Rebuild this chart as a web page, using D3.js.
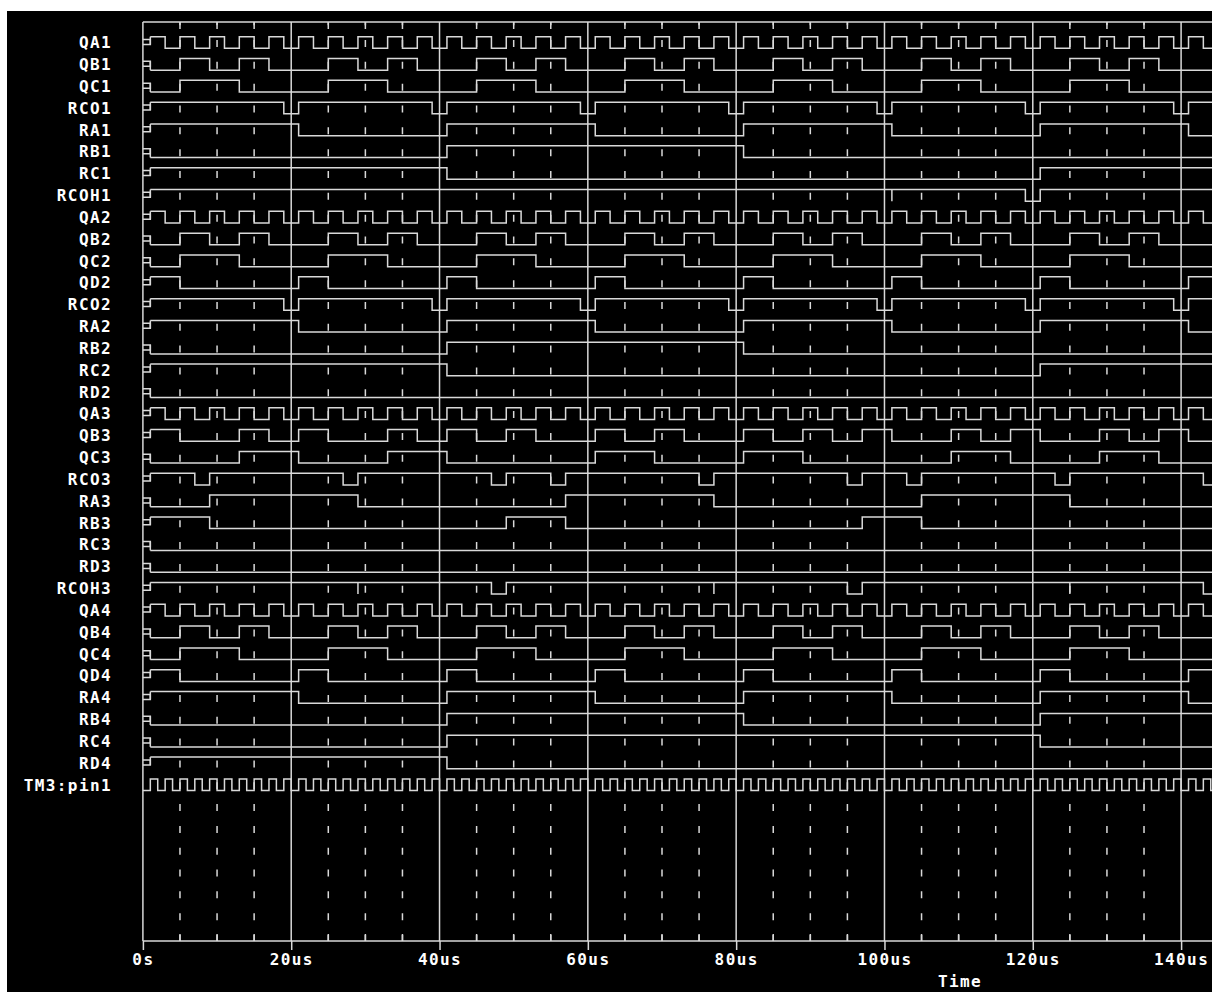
<!DOCTYPE html>
<html><head><meta charset="utf-8">
<script src="https://cdn.jsdelivr.net/npm/d3@7"></script>
<style>html,body{margin:0;padding:0;background:#fff;overflow:hidden}svg{display:block}</style>
</head><body>
<svg id="c" width="1212" height="992"></svg>
<script>
// ---------- DATA (times in microseconds; edges = toggle times) ----------
const qaEdges = [3,5,7,9,11,13,15,17,19,21,23,25,27,29,31,33,35,37,39,41,43,45,47,49,51,53,55,57,59,61,63,65,67,69,71,73,75,77,79,81,83,85,87,89,91,93,95,97,99,101,103,105,107,109,111,113,115,117,119,121,123,125,127,129,131,133,135,137,139,141,143];
const qbEdges = [5,9,13,17,25,29,33,37,45,49,53,57,65,69,73,77,85,89,93,97,105,109,113,117,125,129,133,137];
const qcEdges = [5,13,25,33,45,53,65,73,85,93,105,113,125,133];
const qdEdges = [5,21,25,41,45,61,65,81,85,101,105,121,125,141];
const rcoEdges = [19,21,39,41,59,61,79,81,99,101,119,121,139,141];
const raEdges = [21,41,61,81,101,121,141];
const rbEdges = [41,81];
const rcEdges = [41,121];
const rcoh1Edges = [119,121];
const rcoh1Glitch = [101];
const qb3Edges = [5,13,17,21,25,33,37,41,45,49,53,61,65,69,73,81,85,89,93,97,101,109,113,117,121,129,133,137,141];
const qc3Edges = [13,21,33,41,61,69,81,89,109,117,129,137];
const rco3Edges = [7,9,27,29,47,49,55,57,75,77,95,97,103,105,123,125,143];
const ra3Edges = [9,29,57,77,105,125];
const rb3Edges = [9,49,57,97,105];
const rcoh3Edges = [47,49,95,97,143];
const rcoh3Glitch = [29,77,125];
const rb4Edges = [41,81,121];
const rc4Edges = [41,121];
const rd4Edges = [41];
const clkEdges = [1,2,3,4,5,6,7,8,9,10,11,12,13,14,15,16,17,18,19,20,21,22,23,24,25,26,27,28,29,30,31,32,33,34,35,36,37,38,39,40,41,42,43,44,45,46,47,48,49,50,51,52,53,54,55,56,57,58,59,60,61,62,63,64,65,66,67,68,69,70,71,72,73,74,75,76,77,78,79,80,81,82,83,84,85,86,87,88,89,90,91,92,93,94,95,96,97,98,99,100,101,102,103,104,105,106,107,108,109,110,111,112,113,114,115,116,117,118,119,120,121,122,123,124,125,126,127,128,129,130,131,132,133,134,135,136,137,138,139,140,141,142,143,144];

const signals = [
  {name:"QA1", init:1, edges:qaEdges},
  {name:"QB1", init:0, edges:qbEdges},
  {name:"QC1", init:0, edges:qcEdges},
  {name:"RCO1", init:1, edges:rcoEdges},
  {name:"RA1", init:1, edges:raEdges},
  {name:"RB1", init:0, edges:rbEdges},
  {name:"RC1", init:1, edges:rcEdges},
  {name:"RCOH1", init:1, edges:rcoh1Edges, glitch:rcoh1Glitch},
  {name:"QA2", init:1, edges:qaEdges},
  {name:"QB2", init:0, edges:qbEdges},
  {name:"QC2", init:0, edges:qcEdges},
  {name:"QD2", init:1, edges:qdEdges},
  {name:"RCO2", init:1, edges:rcoEdges},
  {name:"RA2", init:1, edges:raEdges},
  {name:"RB2", init:0, edges:rbEdges},
  {name:"RC2", init:1, edges:rcEdges},
  {name:"RD2", init:0, edges:[]},
  {name:"QA3", init:1, edges:qaEdges},
  {name:"QB3", init:1, edges:qb3Edges},
  {name:"QC3", init:0, edges:qc3Edges},
  {name:"RCO3", init:1, edges:rco3Edges},
  {name:"RA3", init:0, edges:ra3Edges},
  {name:"RB3", init:1, edges:rb3Edges},
  {name:"RC3", init:0, edges:[]},
  {name:"RD3", init:0, edges:[]},
  {name:"RCOH3", init:1, edges:rcoh3Edges, glitch:rcoh3Glitch},
  {name:"QA4", init:1, edges:qaEdges},
  {name:"QB4", init:0, edges:qbEdges},
  {name:"QC4", init:0, edges:qcEdges},
  {name:"QD4", init:1, edges:qdEdges},
  {name:"RA4", init:1, edges:raEdges},
  {name:"RB4", init:0, edges:rb4Edges},
  {name:"RC4", init:0, edges:rc4Edges},
  {name:"RD4", init:1, edges:rd4Edges},
  {name:"TM3:pin1", init:0, edges:clkEdges, noBox:true}
];
const majorTicks = [0,20,40,60,80,100,120,140];
const tickLabels = ["0s","20us","40us","60us","80us","100us","120us","140us"];
const minorTicks = [5,10,15,25,30,35,45,50,55,65,70,75,85,90,95,105,110,115,125,130,135];
const axisTitle = "Time";

// ---------- LAYOUT ----------
const W = 1212, H = 992;
const plotTop = 22, axisY = 941;
const LINE = "#d9d9d9";
const FONT = "'DejaVu Sans Mono', monospace";
const svg = d3.select("#c");
svg.append("rect").attr("x",7).attr("y",11).attr("width",W-7).attr("height",H-11).attr("fill","#000");

const x = d3.scaleLinear().domain([0,140]).range([142.9,1181.1]);
const tEnd = x.invert(W + 2);
const y = d3.scalePoint().domain(signals.map(d=>d.name)).range([42.5, 42.5 + 34*21.83]);
const half = 5.83;
const lvl = (name, v) => y(name) + (v ? -half : half);

// grid
const grid = svg.append("g");
grid.selectAll("line.minor").data(minorTicks).join("line")
  .attr("x1",d=>x(d)).attr("x2",d=>x(d)).attr("y1",plotTop).attr("y2",axisY)
  .attr("stroke",LINE).attr("stroke-width",1.5)
  .attr("stroke-dasharray","7,14.83").attr("stroke-dashoffset",3.83);
grid.selectAll("line.mt").data(minorTicks).join("line")
  .attr("x1",d=>x(d)).attr("x2",d=>x(d)).attr("y1",plotTop).attr("y2",plotTop+7)
  .attr("stroke",LINE).attr("stroke-width",1.5);
grid.selectAll("line.major").data(majorTicks).join("line")
  .attr("x1",d=>x(d)).attr("x2",d=>x(d)).attr("y1",plotTop).attr("y2",axisY)
  .attr("stroke",LINE).attr("stroke-width",1.5);
grid.append("line").attr("x1",x(0)).attr("x2",W).attr("y1",plotTop).attr("y2",plotTop)
  .attr("stroke",LINE).attr("stroke-width",1.5);

// bottom axis
const axis = d3.axisBottom(x).tickValues(majorTicks)
  .tickFormat((d,i)=>tickLabels[i]).tickSizeInner(9).tickSizeOuter(0).tickPadding(4);
const ag = svg.append("g").attr("transform",`translate(0,${axisY})`).call(axis);
ag.select(".domain").attr("d",`M${x(0)},0H${W}`).attr("stroke",LINE).attr("stroke-width",1.5);
ag.selectAll(".tick line").attr("stroke",LINE).attr("stroke-width",1.5);
ag.selectAll(".tick text").attr("fill","#fff").attr("font-family",FONT).attr("font-weight","bold")
  .attr("font-size",16).attr("letter-spacing",1.4);
ag.selectAll("line.minorTick").data(minorTicks).join("line").attr("class","minorTick")
  .attr("x1",d=>x(d)).attr("x2",d=>x(d)).attr("y1",0).attr("y2",-7)
  .attr("stroke",LINE).attr("stroke-width",1.5);
svg.append("text").attr("x",960).attr("y",987).attr("text-anchor","middle")
  .attr("fill","#fff").attr("font-family",FONT).attr("font-weight","bold")
  .attr("font-size",16).attr("letter-spacing",1.4).text(axisTitle);

// labels
svg.append("g").selectAll("text").data(signals).join("text")
  .attr("x",112).attr("y",d=>y(d.name)+5.8).attr("text-anchor","end")
  .attr("fill","#fff").attr("font-family",FONT).attr("font-weight","bold")
  .attr("font-size",16).attr("letter-spacing",1.4).text(d=>d.name);

// waveforms
const wg = svg.append("g").attr("fill","none").attr("stroke",LINE).attr("stroke-width",1.5);
signals.forEach(s=>{
  const t0 = s.noBox ? 0 : 1;
  let v = s.init;
  let p = `M${x(t0)},${lvl(s.name,v)}`;
  s.edges.forEach(e=>{
    if (e > tEnd) return;
    v = 1 - v;
    p += `H${x(e)}V${lvl(s.name,v)}`;
  });
  p += `H${x(tEnd)}`;
  wg.append("path").attr("d",p);
  if (!s.noBox) {
    const c = y(s.name);
    const top = c - 3, bot = c + 2;
    wg.append("path").attr("d",`M${x(0)},${top}H${x(1)}V${bot}H${x(0)}`);
    wg.append("path").attr("d",`M${x(1)},${s.init ? bot : top}V${lvl(s.name,s.init)}`);
  }
  (s.glitch||[]).forEach(gt=>{
    wg.append("path").attr("d",`M${x(gt)},${lvl(s.name,1)}V${lvl(s.name,0)}`);
  });
});
</script>
</body></html>
